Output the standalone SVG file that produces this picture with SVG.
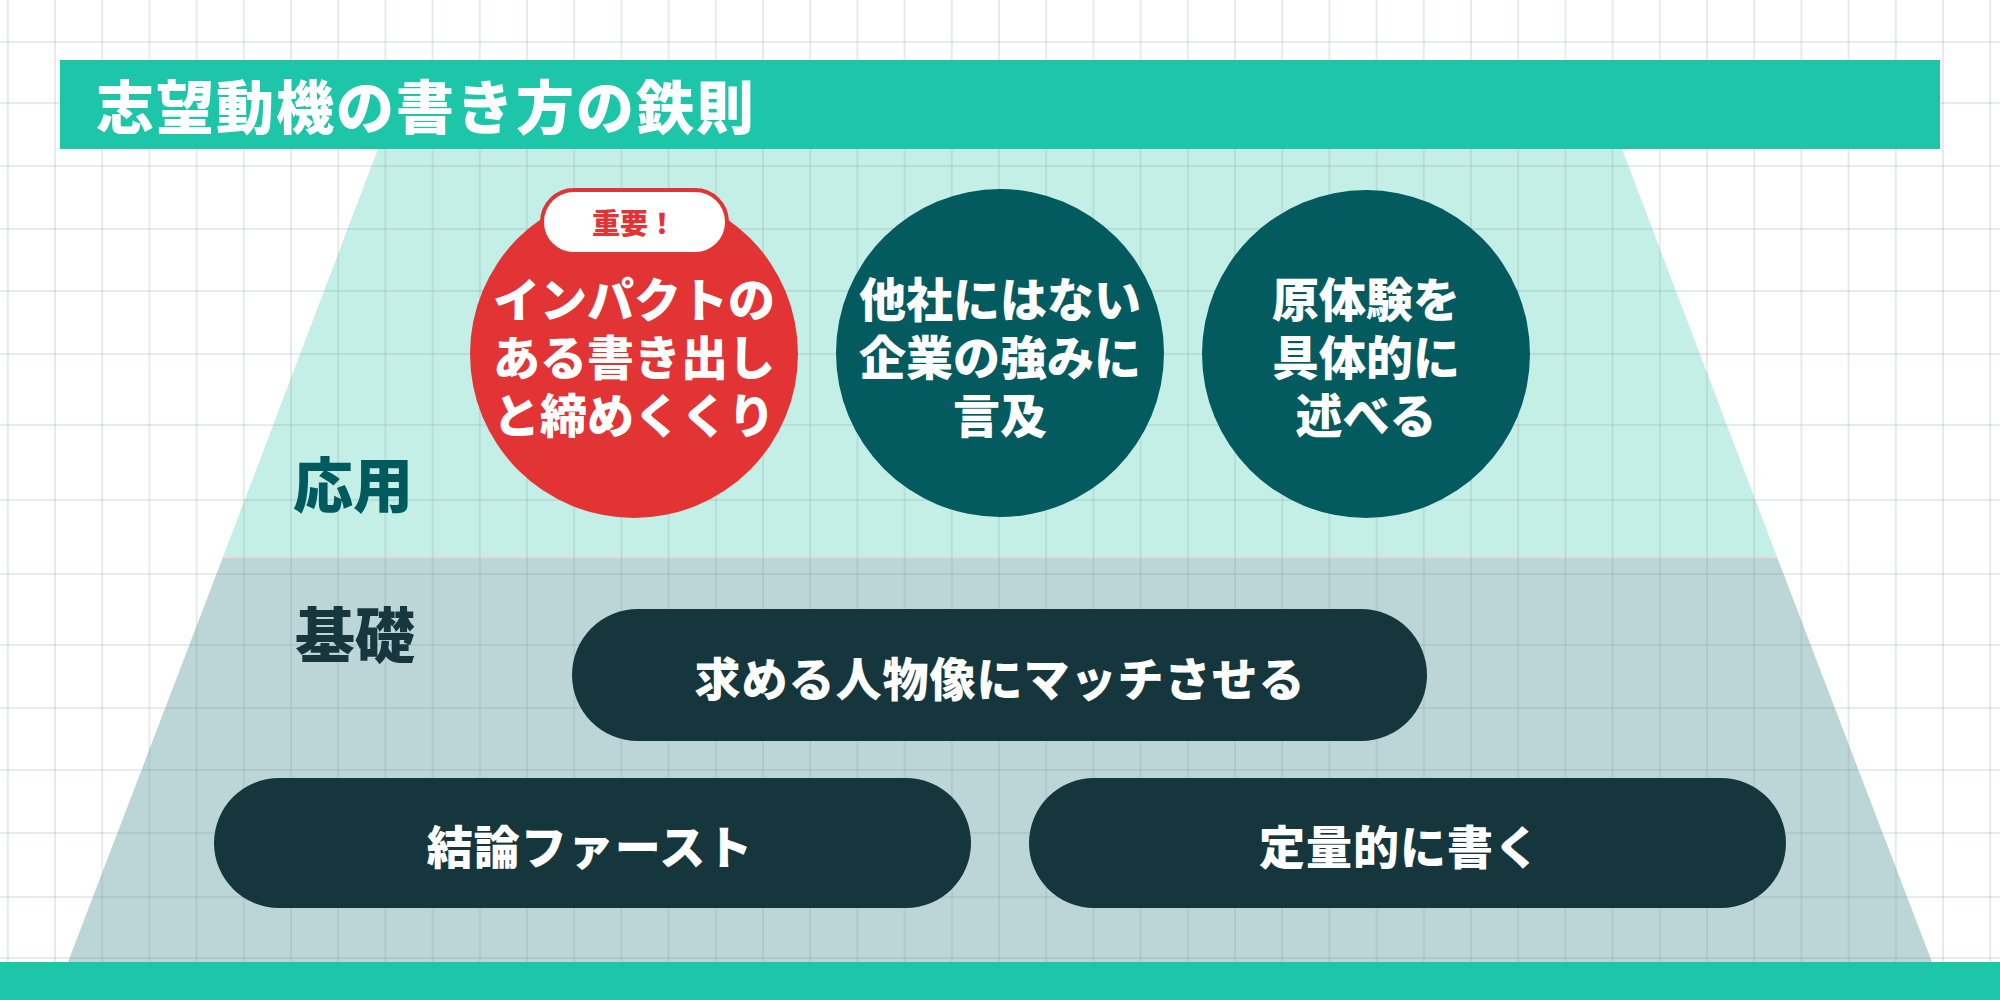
<svg xmlns="http://www.w3.org/2000/svg" width="2000" height="1000" viewBox="0 0 2000 1000">
<defs>
<pattern id="vgrid" patternUnits="userSpaceOnUse" x="6.8" y="0" width="47.2" height="1000">
<line x1="1" y1="0" x2="1" y2="1000" stroke="#7f8f90" stroke-opacity="0.23" stroke-width="1.6"/>
</pattern>
<style>
.t{font-family:"Noto Sans CJK JP","Noto Sans CJK SC",sans-serif;font-weight:900;text-anchor:middle;dominant-baseline:central}
.w{fill:#ffffff}
.c{font-size:47px}
.p{font-size:46px}
.pill{fill:#16363D}
.teal{fill:#035B5F}
</style>
</defs>
<rect x="0" y="0" width="2000" height="1000" fill="#ffffff"/>
<polygon points="378,149 1622,149 1777,557 223,557" fill="#C3EFE6"/>
<polygon points="223,557 1777,557 1932,962 68,962" fill="#BCD5D7"/>
<line x1="223" y1="557" x2="1777" y2="557" stroke="#E3DEDC" stroke-width="2"/>
<g id="grid">
<rect x="0" y="0" width="2000" height="962" fill="url(#vgrid)"/>
<path d="M0 42H2000M0 103H2000M0 166H2000M0 229H2000M0 291H2000M0 354H2000M0 425H2000M0 500H2000M0 574H2000M0 645H2000M0 708H2000M0 770H2000M0 833H2000M0 897H2000M0 958H2000" stroke="#7f8f90" stroke-opacity="0.23" stroke-width="1.6" fill="none"/>
</g>
<g id="header">
<rect x="60" y="60" width="1880" height="89" fill="#1EC6A9"/>
<text x="96" y="104" class="t w" style="font-size:58px;text-anchor:start;letter-spacing:2px">志望動機の書き方の鉄則</text>
</g>
<rect id="footer" x="0" y="962" width="2000" height="38" fill="#1EC6A9"/>
<g id="label-oyo"><text x="353" y="481" class="t" style="font-size:60px;fill:#005A5E">応用</text></g>
<g id="label-kiso"><text x="355" y="631" class="t" style="font-size:60px;fill:#17363D">基礎</text></g>
<g id="node-impact">
<circle cx="634" cy="354" r="164" fill="#E23434"/>
<text class="t w c"><tspan x="634" y="296">インパクトの</tspan><tspan x="634" y="354">ある書き出し</tspan><tspan x="634" y="412">と締めくくり</tspan></text>
</g>
<g id="badge">
<rect x="542" y="190" width="185" height="64" rx="32" fill="#ffffff" stroke="#E23434" stroke-width="4"/>
<text x="634" y="222" class="t" style="font-size:28px;fill:#E23434">重要！</text>
</g>
<g id="node-strength">
<circle cx="1000" cy="353" r="164" class="teal"/>
<text class="t w c"><tspan x="1000" y="296">他社にはない</tspan><tspan x="1000" y="354">企業の強みに</tspan><tspan x="1000" y="412">言及</tspan></text>
</g>
<g id="node-experience">
<circle cx="1366" cy="354" r="164" class="teal"/>
<text class="t w c"><tspan x="1366" y="296">原体験を</tspan><tspan x="1366" y="354">具体的に</tspan><tspan x="1366" y="412">述べる</tspan></text>
</g>
<g id="node-match">
<rect x="572" y="609" width="855" height="132" rx="66" class="pill"/>
<text x="1000" y="676" class="t w p" style="letter-spacing:1px">求める人物像にマッチさせる</text>
</g>
<g id="node-conclusion">
<rect x="214" y="778" width="757" height="130" rx="65" class="pill"/>
<text x="590" y="844" class="t w p" style="letter-spacing:1px">結論ファースト</text>
</g>
<g id="node-quantitative">
<rect x="1029" y="778" width="757" height="130" rx="65" class="pill"/>
<text x="1400" y="844" class="t w p" style="letter-spacing:1px">定量的に書く</text>
</g>
<g id="connectors"/>
</svg>
